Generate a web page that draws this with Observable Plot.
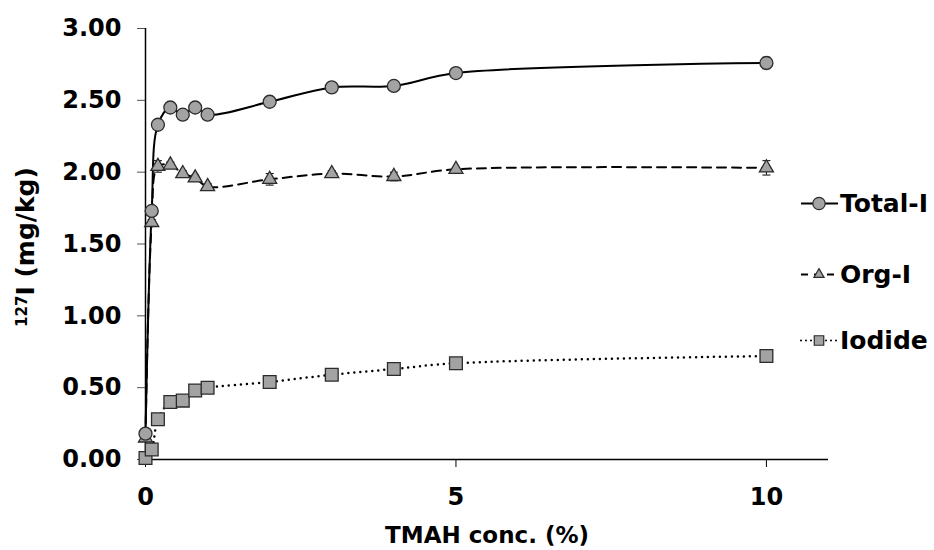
<!DOCTYPE html>
<html>
<head>
<meta charset="utf-8">
<script src="https://cdn.jsdelivr.net/npm/d3@7"></script>
<script src="https://cdn.jsdelivr.net/npm/@observablehq/plot@0.6"></script>
<style>
  html, body { margin: 0; padding: 0; background: #fff; }
  #wrap { position: relative; width: 934px; height: 550px; font-family: "DejaVu Sans", Verdana, sans-serif; font-weight: bold; }
  #legend { position: absolute; left: 800px; top: 0; }
  .item { position: absolute; left: 0; display: flex; align-items: center; font-size: 25px; white-space: nowrap; transform: translateY(-50%); }
  .item svg { display: block; }
</style>
</head>
<body>
<div id="wrap"><div id="legend"></div></div>
<script>
// ---- data ----
const tmahConc = [0, 0.1, 0.2, 0.4, 0.6, 0.8, 1, 2, 3, 4, 5, 10];
const totalI   = [0.18, 1.73, 2.33, 2.45, 2.40, 2.45, 2.40, 2.49, 2.59, 2.60, 2.69, 2.76];
const totalErr = [0.01, 0.02, 0.02, 0.02, 0.03, 0.02, 0.02, 0.03, 0.03, 0.02, 0.01, 0.04];
const orgI     = [0.15, 1.65, 2.04, 2.05, 1.99, 1.96, 1.90, 1.95, 1.99, 1.97, 2.02, 2.03];
const orgErr   = [0.01, 0.02, 0.04, 0.02, 0.02, 0.02, 0.02, 0.04, 0.02, 0.03, 0.01, 0.05];
const iodide   = [0.01, 0.07, 0.28, 0.40, 0.41, 0.48, 0.50, 0.54, 0.59, 0.63, 0.67, 0.72];
const iodErr   = [0.01, 0.01, 0.01, 0.01, 0.01, 0.01, 0.01, 0.01, 0.01, 0.01, 0.01, 0.01];
const seriesNames = ["Total-I", "Org-I", "Iodide"];
const yTicks = [0, 0.5, 1, 1.5, 2, 2.5, 3];
const xTicks = [0, 5, 10];
const xTitle = "TMAH conc. (%)";

const build = (name, vals, errs) => tmahConc.map((x, i) => ({series: name, x, y: vals[i], e: errs[i]}));
const total = build(seriesNames[0], totalI, totalErr);
const org = build(seriesNames[1], orgI, orgErr);
const iod = build(seriesNames[2], iodide, iodErr);

const fillGray = "#a3a3a3";
const edge = "#2b2b2b";
const capSymbol = { draw(ctx, size) { const w = 4; ctx.moveTo(-w, 0); ctx.lineTo(w, 0); } };

const errMarks = (data) => [
  Plot.ruleX(data, {x: "x", y1: d => d.y - d.e, y2: d => d.y + d.e, stroke: "#000", strokeWidth: 1}),
  Plot.dot(data, {x: "x", y: d => d.y + d.e, symbol: capSymbol, r: 3, stroke: "#000", strokeWidth: 1}),
  Plot.dot(data, {x: "x", y: d => d.y - d.e, symbol: capSymbol, r: 3, stroke: "#000", strokeWidth: 1})
];

const chart = Plot.plot({
  width: 934,
  height: 550,
  marginLeft: 145,
  marginRight: 106,
  marginTop: 28,
  marginBottom: 91,
  x: {domain: [0, 11]},
  y: {domain: [0, 3]},
  style: {fontFamily: "'DejaVu Sans', Verdana, sans-serif", fontWeight: "bold", fontSize: "24px", color: "#000", background: "transparent"},
  marks: [
    Plot.axisY({ticks: yTicks, tickFormat: d3.format(".2f"), tickSize: 8, tickPadding: 16, label: null, fontSize: 24, fontWeight: "bold", stroke: "#555"}),
    Plot.axisX({ticks: xTicks, tickFormat: d3.format("d"), tickSize: 8, tickPadding: 20, label: null, fontSize: 24, fontWeight: "bold"}),
    Plot.ruleY([0], {stroke: "#000", strokeWidth: 1.5}),
    Plot.ruleX([0], {stroke: "#000", strokeWidth: 1.5}),
    Plot.line(iod, {x: "x", y: "y", curve: "catmull-rom", stroke: "#000", strokeWidth: 2.5, strokeDasharray: "0,6", strokeLinecap: "round"}),
    Plot.line(org, {x: "x", y: "y", curve: "catmull-rom", stroke: "#000", strokeWidth: 2, strokeDasharray: "9,6"}),
    Plot.line(total, {x: "x", y: "y", curve: "catmull-rom", stroke: "#000", strokeWidth: 2}),
    ...errMarks(iod), ...errMarks(org), ...errMarks(total),
    Plot.dot(iod, {x: "x", y: "y", symbol: "square", r: 7.2, fill: fillGray, stroke: edge, strokeWidth: 1.3}),
    Plot.dot(org, {x: "x", y: "y", symbol: "triangle", r: 5.2, fill: fillGray, stroke: edge, strokeWidth: 1.3}),
    Plot.dot(total, {x: "x", y: "y", symbol: "circle", r: 6.5, fill: fillGray, stroke: edge, strokeWidth: 1.3}),
    Plot.text([xTitle], {frameAnchor: "bottom", dy: 76, lineAnchor: "middle", fontSize: 23, fontWeight: "bold", fill: "#000"})
  ]
});

document.getElementById("wrap").prepend(chart);

// y-axis title with superscript
const svg = d3.select(chart);
const yt = svg.append("text")
  .attr("transform", "translate(31, 247) rotate(-90)")
  .attr("text-anchor", "middle")
  .style("font-family", "'DejaVu Sans', Verdana, sans-serif")
  .style("font-weight", "bold")
  .style("font-size", "25px")
  .attr("fill", "#000");
yt.append("tspan").text("127").style("font-size", "15px").attr("dy", "-0.3em");
yt.append("tspan").text("I (mg/kg)").attr("dy", "0.3em");

// legend
const legendRows = [
  {name: seriesNames[0], y: 203, symbol: "circle", dash: null, cap: "butt"},
  {name: seriesNames[1], y: 274, symbol: "triangle", dash: "7,6", cap: "butt"},
  {name: seriesNames[2], y: 340, symbol: "square", dash: "0,5", cap: "round"}
];
const legend = document.getElementById("legend");
for (const row of legendRows) {
  const item = document.createElement("div");
  item.className = "item";
  item.style.top = row.y + "px";
  const s = d3.create("svg").attr("width", 40).attr("height", 20);
  s.append("line").attr("x1", 1).attr("x2", 38).attr("y1", 10).attr("y2", 10)
    .attr("stroke", "#000").attr("stroke-width", 2)
    .attr("stroke-dasharray", row.dash).attr("stroke-linecap", row.cap);
  const sym = {circle: d3.symbolCircle, triangle: d3.symbolTriangle, square: d3.symbolSquare}[row.symbol];
  const size = {circle: 120, triangle: 45, square: 90}[row.symbol];
  s.append("path").attr("d", d3.symbol(sym, size)()).attr("transform", "translate(19,10)")
    .attr("fill", fillGray).attr("stroke", edge).attr("stroke-width", 1.2);
  item.append(s.node());
  const t = document.createElement("span");
  t.textContent = row.name;
  item.append(t);
  legend.append(item);
}
</script>
</body>
</html>
